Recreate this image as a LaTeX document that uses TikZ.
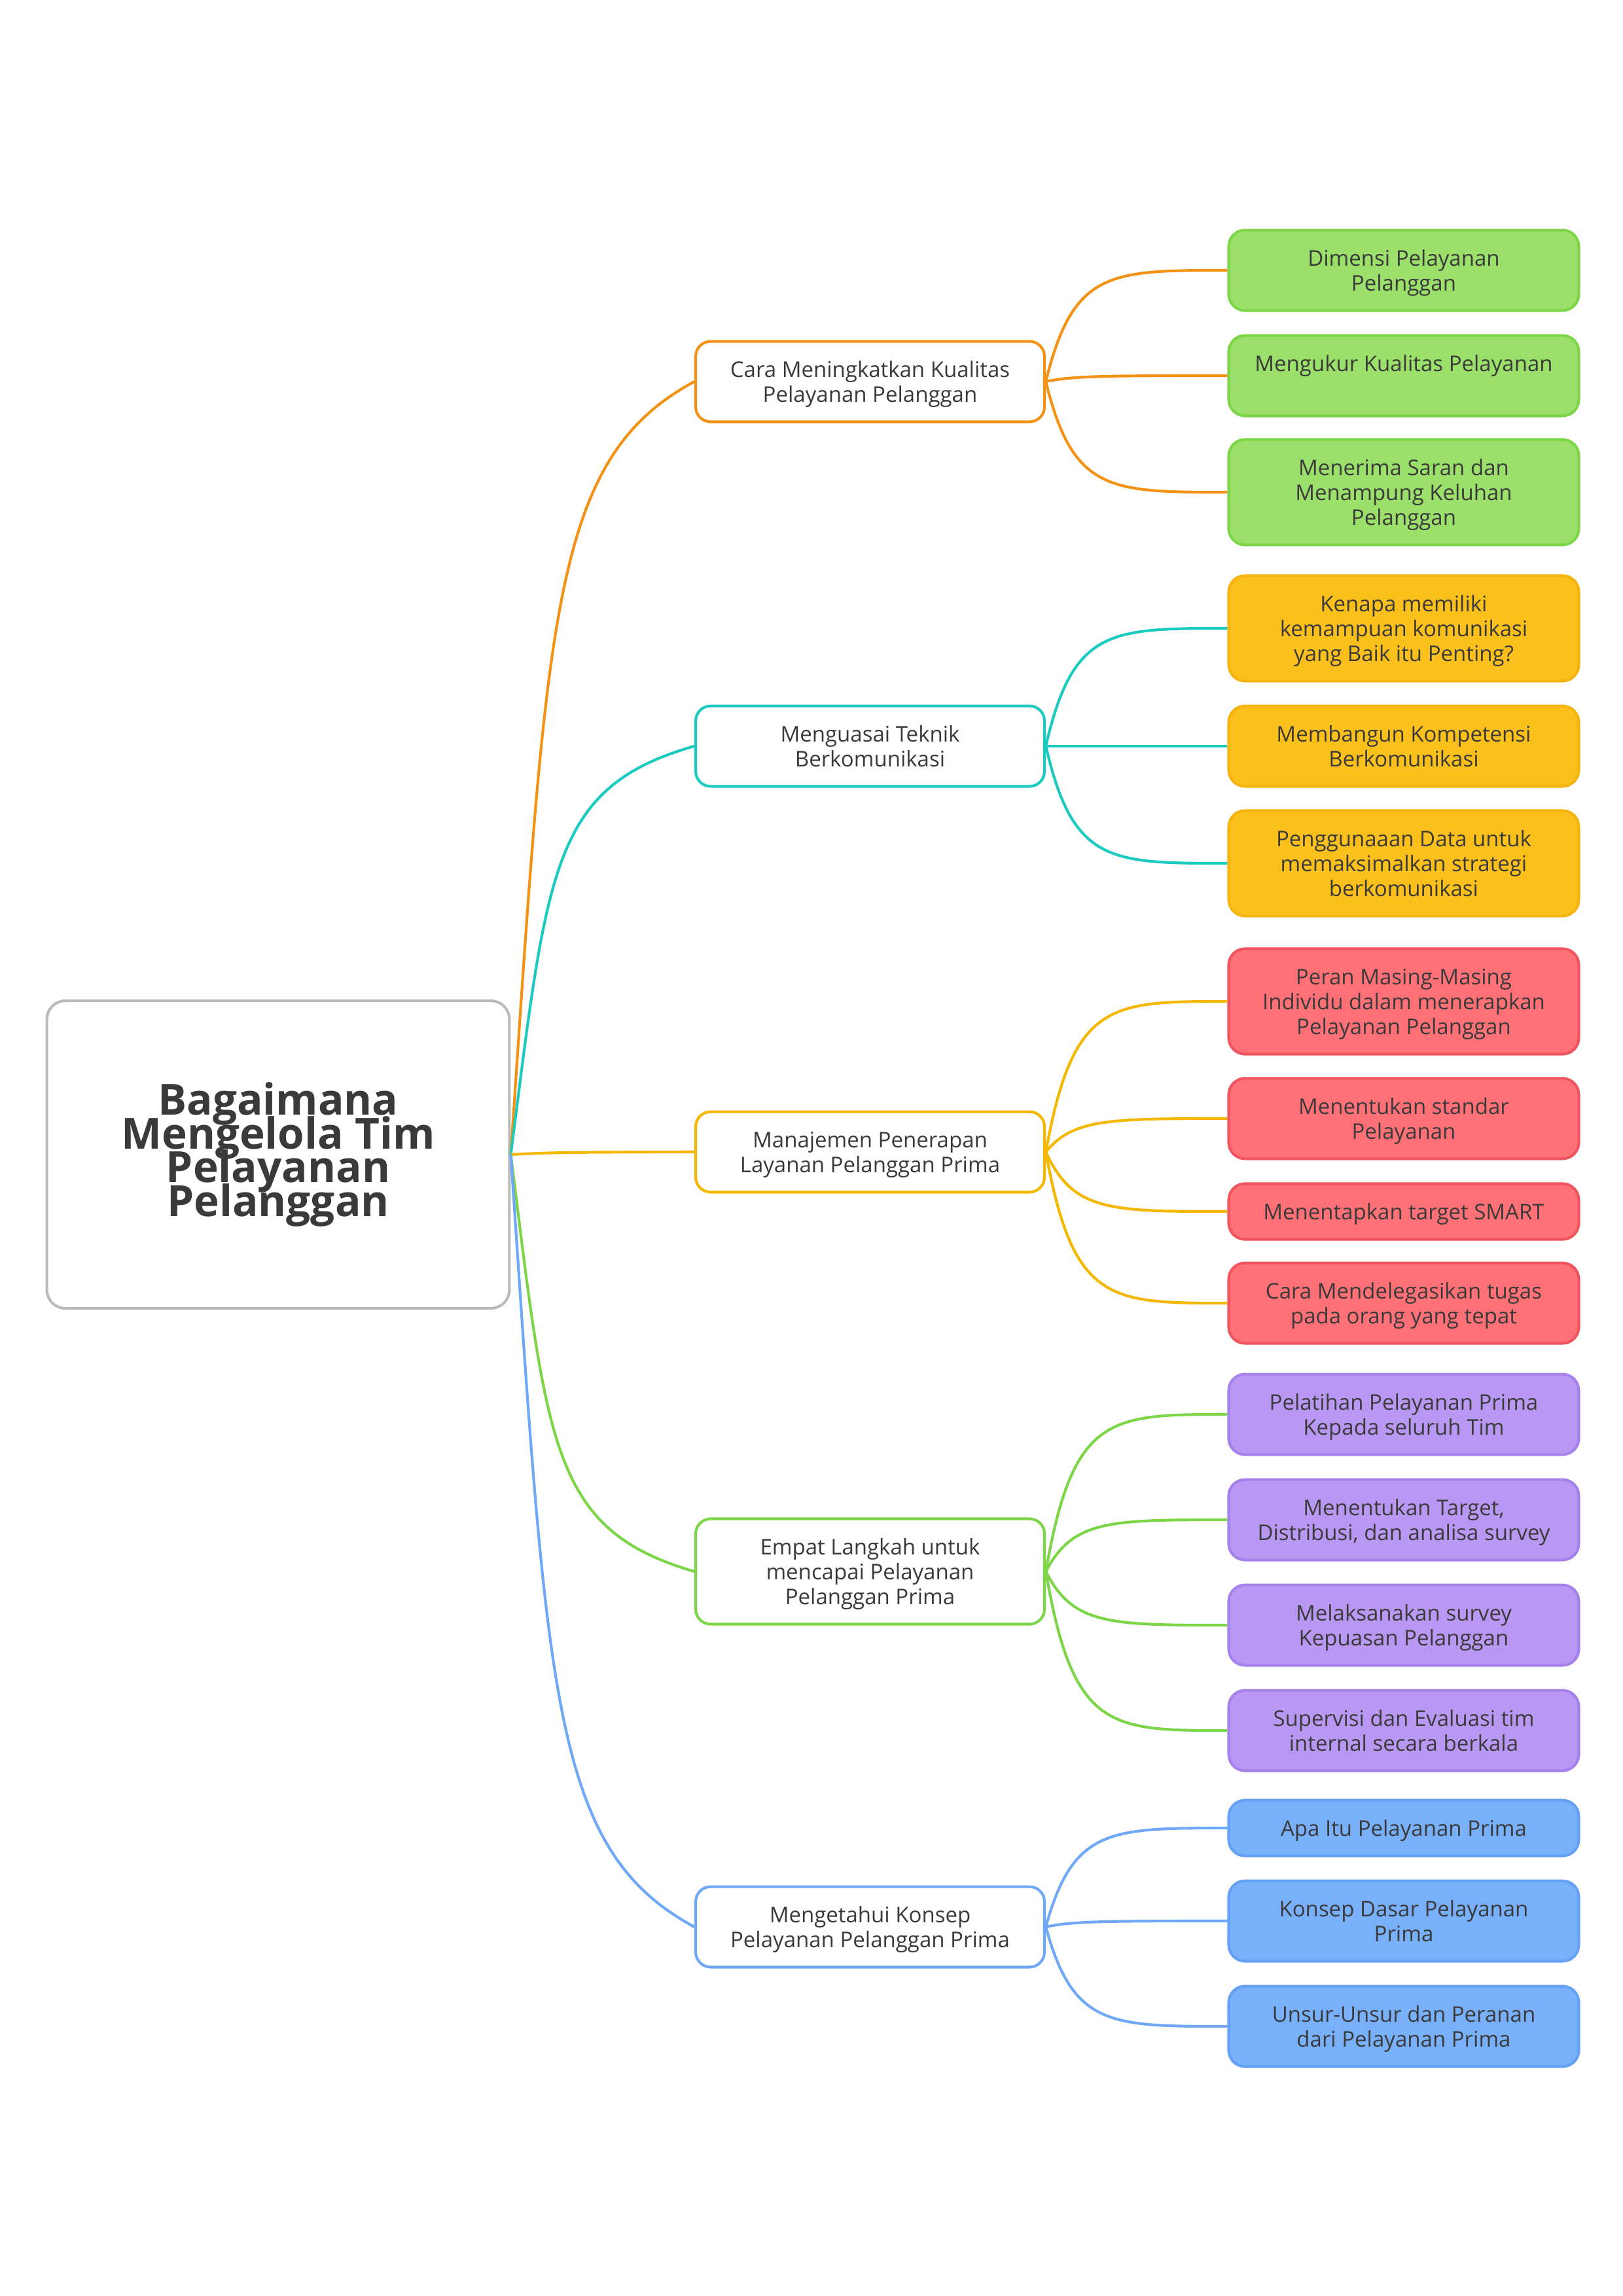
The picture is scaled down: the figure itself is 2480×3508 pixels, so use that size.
\documentclass[tikz,border=0pt]{standalone}
\usepackage{fontspec}
\setmainfont{Open Sans}
\usetikzlibrary{calc}
\definecolor{txtc}{HTML}{3A3A3A}
\definecolor{rootc}{HTML}{BBBBBB}
\definecolor{corange}{HTML}{F39214}
\definecolor{cteal}{HTML}{1CCBC0}
\definecolor{cyellow}{HTML}{F5B800}
\definecolor{cgreen}{HTML}{7DD648}
\definecolor{cblue}{HTML}{6EA8F7}
\definecolor{gfill}{HTML}{9BE06A}
\definecolor{gdraw}{HTML}{7DD648}
\definecolor{yfill}{HTML}{FCC01C}
\definecolor{ydraw}{HTML}{F5B40F}
\definecolor{rfill}{HTML}{FF7077}
\definecolor{rdraw}{HTML}{F0555F}
\definecolor{pfill}{HTML}{B898F2}
\definecolor{pdraw}{HTML}{A582EB}
\definecolor{bfill}{HTML}{78B0FA}
\definecolor{bdraw}{HTML}{64A0F5}
\newcommand\myrootfont{\fontsize{15.8}{12.4}\selectfont\bfseries\lineskiplimit=-30pt\relax\lineskip=0pt\relax}
\begin{document}
\begin{tikzpicture}[x=0.24093pt,y=-0.24093pt,
  txt/.style={font=\fontsize{7.95}{9.16}\selectfont, text=txtc, align=center, inner sep=0pt, text depth=0pt},
  lone/.style={txt, draw=#1, line width=1pt, fill=white, rounded corners=5.5pt, minimum width=128.4pt},
  leaf/.style 2 args={txt, draw=#1, fill=#2, line width=1pt, rounded corners=6pt, minimum width=128.9pt},
  hA/.style={minimum height=20.5pt},
  hB/.style={minimum height=29.6pt},
  hC/.style={minimum height=38.8pt},
  rootedge/.style={draw=#1, line width=1pt,
    to path={let \p1=(\tikztostart), \p2=(\tikztotarget) in
      .. controls ({\x1+0.2*(\x2-\x1)},{\y1+0.7*(\y2-\y1)}) and ({\x1+0.22*(\x2-\x1)},{\y1+0.9*(\y2-\y1)}) .. (\tikztotarget)}},
  leafedge/.style={draw=#1, line width=1pt,
    to path={let \p1=(\tikztostart), \p2=(\tikztotarget) in
      .. controls ({\x1+0.15*(\x2-\x1)},{\y2}) and ({\x1+0.35*(\x2-\x1)},{\y2}) .. (\tikztotarget)}}
]
\useasboundingbox (0,0) rectangle (2480,3508);
\fill[white] (0,0) rectangle (2480,3508);

% root
\node[draw=rootc, line width=1pt, fill=white, rounded corners=6.8pt,
  minimum width=170.3pt, minimum height=113.2pt, inner sep=0pt, align=center,
  text=txtc, font=\myrootfont] (root) at (425,1764)
  {Bagaimana\\Mengelola Tim\\Pelayanan\\Pelanggan};

% level 1
\node[lone=corange, hB] (la) at (1329.5,583) {Cara Meningkatkan Kualitas\\Pelayanan Pelanggan};
\node[lone=cteal, hB] (lb) at (1329.5,1140) {Menguasai Teknik\\Berkomunikasi};
\node[lone=cyellow, hB] (lc) at (1329.5,1760) {Manajemen Penerapan\\Layanan Pelanggan Prima};
\node[lone=cgreen, hC] (ld) at (1329.5,2401) {Empat Langkah untuk\\mencapai Pelayanan\\Pelanggan Prima};
\node[lone=cblue, hB] (le) at (1329.5,2944) {Mengetahui Konsep\\Pelayanan Pelanggan Prima};

% green leaves
\node[leaf={gdraw}{gfill}, hB] (g1) at (2145,413) {Dimensi Pelayanan\\Pelanggan};
\node[leaf={gdraw}{gfill}, hB] (g2) at (2145,574) {Mengukur Kualitas Pelayanan\\\phantom{Mg}};
\node[leaf={gdraw}{gfill}, hC] (g3) at (2145,752) {Menerima Saran dan\\Menampung Keluhan\\Pelanggan};
% yellow leaves
\node[leaf={ydraw}{yfill}, hC] (y1) at (2145,960) {Kenapa memiliki\\kemampuan komunikasi\\yang Baik itu Penting?};
\node[leaf={ydraw}{yfill}, hB] (y2) at (2145,1140) {Membangun Kompetensi\\Berkomunikasi};
\node[leaf={ydraw}{yfill}, hC] (y3) at (2145,1319) {Penggunaaan Data untuk\\memaksimalkan strategi\\berkomunikasi};
% red leaves
\node[leaf={rdraw}{rfill}, hC] (r1) at (2145,1530) {Peran Masing-Masing\\Individu dalam menerapkan\\Pelayanan Pelanggan};
\node[leaf={rdraw}{rfill}, hB] (r2) at (2145,1709) {Menentukan standar\\Pelayanan};
\node[leaf={rdraw}{rfill}, hA] (r3) at (2145,1851) {Menentapkan target SMART};
\node[leaf={rdraw}{rfill}, hB] (r4) at (2145,1991) {Cara Mendelegasikan tugas\\pada orang yang tepat};
% purple leaves
\node[leaf={pdraw}{pfill}, hB] (p1) at (2145,2161) {Pelatihan Pelayanan Prima\\Kepada seluruh Tim};
\node[leaf={pdraw}{pfill}, hB] (p2) at (2145,2322) {Menentukan Target,\\Distribusi, dan analisa survey};
\node[leaf={pdraw}{pfill}, hB] (p3) at (2145,2483) {Melaksanakan survey\\Kepuasan Pelanggan};
\node[leaf={pdraw}{pfill}, hB] (p4) at (2145,2644) {Supervisi dan Evaluasi tim\\internal secara berkala};
% blue leaves
\node[leaf={bdraw}{bfill}, hA] (b1) at (2145,2793) {Apa Itu Pelayanan Prima};
\node[leaf={bdraw}{bfill}, hB] (b2) at (2145,2935) {Konsep Dasar Pelayanan\\Prima};
\node[leaf={bdraw}{bfill}, hB] (b3) at (2145,3096) {Unsur-Unsur dan Peranan\\dari Pelayanan Prima};

% root edges
\draw[rootedge=corange] (root.east) to (la.west);
\draw[rootedge=cteal] (root.east) to (lb.west);
\draw[rootedge=cyellow] (root.east) to (lc.west);
\draw[rootedge=cgreen] (root.east) to (ld.west);
\draw[rootedge=cblue] (root.east) to (le.west);

% leaf edges
\foreach \lf in {g1,g2,g3} \draw[leafedge=corange] (la.east) to (\lf.west);
\foreach \lf in {y1,y2,y3} \draw[leafedge=cteal] (lb.east) to (\lf.west);
\foreach \lf in {r1,r2,r3,r4} \draw[leafedge=cyellow] (lc.east) to (\lf.west);
\foreach \lf in {p1,p2,p3,p4} \draw[leafedge=cgreen] (ld.east) to (\lf.west);
\foreach \lf in {b1,b2,b3} \draw[leafedge=cblue] (le.east) to (\lf.west);
\end{tikzpicture}
\end{document}
